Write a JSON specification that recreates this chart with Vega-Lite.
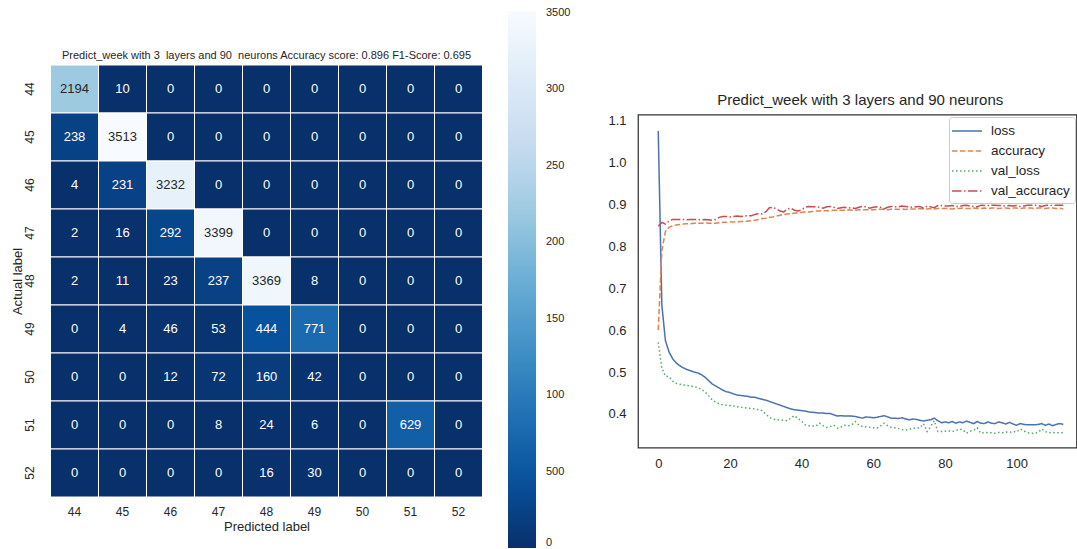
{
  "$schema": "https://vega.github.io/schema/vega-lite/v6.json",
  "autosize": {"type": "pad"},
  "padding": {"left": 10.5, "top": 11, "right": 0, "bottom": 0},
  "background": "white",
  "config": {"font": "Liberation Sans", "view": {"stroke": null}},
  "bounds": "flush",
  "center": true,
  "spacing": 155.5,
  "resolve": {"scale": {"color": "independent", "strokeDash": "independent"}, "legend": {"color": "independent", "strokeDash": "independent"}},
  "hconcat": [
    {
      "width": 432,
      "height": 432,
      "title": {"text": "Predict_week with 3\u00a0 layers and 90\u00a0 neurons Accuracy score: 0.896 F1-Score: 0.695", "fontSize": 11, "fontWeight": "normal", "color": "#262626", "offset": -50, "frame": "group", "anchor": "middle"},
      "data": {"values": [
        {"actual": "44", "predicted": "44", "count": 2194}, {"actual": "44", "predicted": "45", "count": 10}, {"actual": "44", "predicted": "46", "count": 0}, {"actual": "44", "predicted": "47", "count": 0}, {"actual": "44", "predicted": "48", "count": 0}, {"actual": "44", "predicted": "49", "count": 0}, {"actual": "44", "predicted": "50", "count": 0}, {"actual": "44", "predicted": "51", "count": 0}, {"actual": "44", "predicted": "52", "count": 0},
        {"actual": "45", "predicted": "44", "count": 238}, {"actual": "45", "predicted": "45", "count": 3513}, {"actual": "45", "predicted": "46", "count": 0}, {"actual": "45", "predicted": "47", "count": 0}, {"actual": "45", "predicted": "48", "count": 0}, {"actual": "45", "predicted": "49", "count": 0}, {"actual": "45", "predicted": "50", "count": 0}, {"actual": "45", "predicted": "51", "count": 0}, {"actual": "45", "predicted": "52", "count": 0},
        {"actual": "46", "predicted": "44", "count": 4}, {"actual": "46", "predicted": "45", "count": 231}, {"actual": "46", "predicted": "46", "count": 3232}, {"actual": "46", "predicted": "47", "count": 0}, {"actual": "46", "predicted": "48", "count": 0}, {"actual": "46", "predicted": "49", "count": 0}, {"actual": "46", "predicted": "50", "count": 0}, {"actual": "46", "predicted": "51", "count": 0}, {"actual": "46", "predicted": "52", "count": 0},
        {"actual": "47", "predicted": "44", "count": 2}, {"actual": "47", "predicted": "45", "count": 16}, {"actual": "47", "predicted": "46", "count": 292}, {"actual": "47", "predicted": "47", "count": 3399}, {"actual": "47", "predicted": "48", "count": 0}, {"actual": "47", "predicted": "49", "count": 0}, {"actual": "47", "predicted": "50", "count": 0}, {"actual": "47", "predicted": "51", "count": 0}, {"actual": "47", "predicted": "52", "count": 0},
        {"actual": "48", "predicted": "44", "count": 2}, {"actual": "48", "predicted": "45", "count": 11}, {"actual": "48", "predicted": "46", "count": 23}, {"actual": "48", "predicted": "47", "count": 237}, {"actual": "48", "predicted": "48", "count": 3369}, {"actual": "48", "predicted": "49", "count": 8}, {"actual": "48", "predicted": "50", "count": 0}, {"actual": "48", "predicted": "51", "count": 0}, {"actual": "48", "predicted": "52", "count": 0},
        {"actual": "49", "predicted": "44", "count": 0}, {"actual": "49", "predicted": "45", "count": 4}, {"actual": "49", "predicted": "46", "count": 46}, {"actual": "49", "predicted": "47", "count": 53}, {"actual": "49", "predicted": "48", "count": 444}, {"actual": "49", "predicted": "49", "count": 771}, {"actual": "49", "predicted": "50", "count": 0}, {"actual": "49", "predicted": "51", "count": 0}, {"actual": "49", "predicted": "52", "count": 0},
        {"actual": "50", "predicted": "44", "count": 0}, {"actual": "50", "predicted": "45", "count": 0}, {"actual": "50", "predicted": "46", "count": 12}, {"actual": "50", "predicted": "47", "count": 72}, {"actual": "50", "predicted": "48", "count": 160}, {"actual": "50", "predicted": "49", "count": 42}, {"actual": "50", "predicted": "50", "count": 0}, {"actual": "50", "predicted": "51", "count": 0}, {"actual": "50", "predicted": "52", "count": 0},
        {"actual": "51", "predicted": "44", "count": 0}, {"actual": "51", "predicted": "45", "count": 0}, {"actual": "51", "predicted": "46", "count": 0}, {"actual": "51", "predicted": "47", "count": 8}, {"actual": "51", "predicted": "48", "count": 24}, {"actual": "51", "predicted": "49", "count": 6}, {"actual": "51", "predicted": "50", "count": 0}, {"actual": "51", "predicted": "51", "count": 629}, {"actual": "51", "predicted": "52", "count": 0},
        {"actual": "52", "predicted": "44", "count": 0}, {"actual": "52", "predicted": "45", "count": 0}, {"actual": "52", "predicted": "46", "count": 0}, {"actual": "52", "predicted": "47", "count": 0}, {"actual": "52", "predicted": "48", "count": 16}, {"actual": "52", "predicted": "49", "count": 30}, {"actual": "52", "predicted": "50", "count": 0}, {"actual": "52", "predicted": "51", "count": 0}, {"actual": "52", "predicted": "52", "count": 0}
      ]},
      "encoding": {
        "x": {"field": "predicted", "type": "ordinal", "scale": {"paddingInner": 0, "paddingOuter": 0},
          "axis": {"title": "Predicted label", "labelAngle": 0, "ticks": false, "domain": false, "labelFontSize": 12, "titleFontSize": 13, "labelPadding": 9, "titlePadding": 3, "labelColor": "#262626", "titleColor": "#262626", "titleFontWeight": "normal"}},
        "y": {"field": "actual", "type": "ordinal", "scale": {"paddingInner": 0, "paddingOuter": 0},
          "axis": {"title": "Actual label", "labelAngle": -90, "ticks": false, "domain": false, "labelFontSize": 12, "titleFontSize": 13, "labelPadding": 14.5, "titlePadding": -1, "labelColor": "#262626", "titleColor": "#262626", "titleFontWeight": "normal"}}
      },
      "layer": [
        {
          "mark": {"type": "rect", "stroke": "white", "strokeWidth": 1},
          "encoding": {
            "color": {"field": "count", "type": "quantitative",
              "scale": {"domain": [0, 439.125, 878.25, 1317.375, 1756.5, 2195.625, 2634.75, 3073.875, 3513],
                        "range": ["#08306b", "#08519c", "#2171b5", "#4292c6", "#6baed6", "#9ecae1", "#c6dbef", "#deebf7", "#f7fbff"], "interpolate": "rgb"},
              "legend": {"orient": "none", "legendX": 457.5, "legendY": -54, "direction": "vertical", "title": null,
                "gradientLength": 537, "gradientThickness": 28, "gradientStrokeWidth": 0,
                "values": [0, 500, 1000, 1500, 2000, 2500, 3000, 3500], "format": "d",
                "labelExpr": "datum.value == 3000 ? '300' : datum.value == 2500 ? '250' : datum.value == 2000 ? '200' : datum.value == 1500 ? '150' : datum.value == 1000 ? '100' : datum.label",
                "labelFontSize": 11, "labelColor": "#262626", "labelOffset": 10}}
          }
        },
        {
          "mark": {"type": "text", "fontSize": 13, "baseline": "middle"},
          "encoding": {
            "text": {"field": "count", "type": "quantitative"},
            "color": {"condition": {"test": "datum.count > 2000", "value": "#262626"}, "value": "white"}
          }
        }
      ]
    },
    {
      "width": 438.5,
      "height": 333,
      "view": {"stroke": "#333333", "strokeWidth": 1.25},
      "title": {"text": "Predict_week with 3 layers and 90 neurons", "fontSize": 15, "fontWeight": "normal", "color": "#262626", "offset": 6, "dx": 3},
      "data": {"values": [
        {"epoch": 0, "loss": 1.075, "accuracy": 0.600, "val_loss": 0.571, "val_accuracy": 0.848},
        {"epoch": 1, "loss": 0.660, "accuracy": 0.790, "val_loss": 0.510, "val_accuracy": 0.857},
        {"epoch": 2, "loss": 0.575, "accuracy": 0.835, "val_loss": 0.490, "val_accuracy": 0.853},
        {"epoch": 3, "loss": 0.548, "accuracy": 0.845, "val_loss": 0.489, "val_accuracy": 0.860},
        {"epoch": 4, "loss": 0.532, "accuracy": 0.849, "val_loss": 0.478, "val_accuracy": 0.864},
        {"epoch": 5, "loss": 0.522, "accuracy": 0.851, "val_loss": 0.473, "val_accuracy": 0.864},
        {"epoch": 6, "loss": 0.515, "accuracy": 0.852, "val_loss": 0.471, "val_accuracy": 0.864},
        {"epoch": 7, "loss": 0.510, "accuracy": 0.853, "val_loss": 0.469, "val_accuracy": 0.864},
        {"epoch": 8, "loss": 0.506, "accuracy": 0.854, "val_loss": 0.468, "val_accuracy": 0.863},
        {"epoch": 9, "loss": 0.503, "accuracy": 0.854, "val_loss": 0.467, "val_accuracy": 0.864},
        {"epoch": 10, "loss": 0.500, "accuracy": 0.855, "val_loss": 0.465, "val_accuracy": 0.864},
        {"epoch": 11, "loss": 0.498, "accuracy": 0.855, "val_loss": 0.463, "val_accuracy": 0.864},
        {"epoch": 12, "loss": 0.494, "accuracy": 0.855, "val_loss": 0.459, "val_accuracy": 0.863},
        {"epoch": 13, "loss": 0.488, "accuracy": 0.856, "val_loss": 0.453, "val_accuracy": 0.864},
        {"epoch": 14, "loss": 0.480, "accuracy": 0.855, "val_loss": 0.444, "val_accuracy": 0.863},
        {"epoch": 15, "loss": 0.472, "accuracy": 0.855, "val_loss": 0.434, "val_accuracy": 0.862},
        {"epoch": 16, "loss": 0.467, "accuracy": 0.855, "val_loss": 0.428, "val_accuracy": 0.864},
        {"epoch": 17, "loss": 0.462, "accuracy": 0.856, "val_loss": 0.424, "val_accuracy": 0.869},
        {"epoch": 18, "loss": 0.457, "accuracy": 0.857, "val_loss": 0.422, "val_accuracy": 0.871},
        {"epoch": 19, "loss": 0.453, "accuracy": 0.857, "val_loss": 0.421, "val_accuracy": 0.871},
        {"epoch": 20, "loss": 0.451, "accuracy": 0.858, "val_loss": 0.420, "val_accuracy": 0.870},
        {"epoch": 21, "loss": 0.448, "accuracy": 0.858, "val_loss": 0.419, "val_accuracy": 0.871},
        {"epoch": 22, "loss": 0.445, "accuracy": 0.858, "val_loss": 0.417, "val_accuracy": 0.872},
        {"epoch": 23, "loss": 0.444, "accuracy": 0.859, "val_loss": 0.416, "val_accuracy": 0.871},
        {"epoch": 24, "loss": 0.443, "accuracy": 0.859, "val_loss": 0.415, "val_accuracy": 0.872},
        {"epoch": 25, "loss": 0.442, "accuracy": 0.860, "val_loss": 0.414, "val_accuracy": 0.873},
        {"epoch": 26, "loss": 0.440, "accuracy": 0.861, "val_loss": 0.413, "val_accuracy": 0.873},
        {"epoch": 27, "loss": 0.440, "accuracy": 0.862, "val_loss": 0.412, "val_accuracy": 0.876},
        {"epoch": 28, "loss": 0.437, "accuracy": 0.864, "val_loss": 0.410, "val_accuracy": 0.878},
        {"epoch": 29, "loss": 0.435, "accuracy": 0.866, "val_loss": 0.408, "val_accuracy": 0.877},
        {"epoch": 30, "loss": 0.433, "accuracy": 0.867, "val_loss": 0.400, "val_accuracy": 0.882},
        {"epoch": 31, "loss": 0.430, "accuracy": 0.869, "val_loss": 0.392, "val_accuracy": 0.892},
        {"epoch": 32, "loss": 0.427, "accuracy": 0.870, "val_loss": 0.388, "val_accuracy": 0.893},
        {"epoch": 33, "loss": 0.424, "accuracy": 0.872, "val_loss": 0.386, "val_accuracy": 0.889},
        {"epoch": 34, "loss": 0.421, "accuracy": 0.874, "val_loss": 0.386, "val_accuracy": 0.884},
        {"epoch": 35, "loss": 0.418, "accuracy": 0.876, "val_loss": 0.385, "val_accuracy": 0.882},
        {"epoch": 36, "loss": 0.415, "accuracy": 0.877, "val_loss": 0.384, "val_accuracy": 0.889},
        {"epoch": 37, "loss": 0.412, "accuracy": 0.878, "val_loss": 0.390, "val_accuracy": 0.891},
        {"epoch": 38, "loss": 0.410, "accuracy": 0.879, "val_loss": 0.396, "val_accuracy": 0.886},
        {"epoch": 39, "loss": 0.409, "accuracy": 0.880, "val_loss": 0.389, "val_accuracy": 0.884},
        {"epoch": 40, "loss": 0.408, "accuracy": 0.881, "val_loss": 0.383, "val_accuracy": 0.887},
        {"epoch": 41, "loss": 0.407, "accuracy": 0.882, "val_loss": 0.374, "val_accuracy": 0.893},
        {"epoch": 42, "loss": 0.405, "accuracy": 0.882, "val_loss": 0.372, "val_accuracy": 0.895},
        {"epoch": 43, "loss": 0.404, "accuracy": 0.883, "val_loss": 0.371, "val_accuracy": 0.894},
        {"epoch": 44, "loss": 0.403, "accuracy": 0.884, "val_loss": 0.371, "val_accuracy": 0.894},
        {"epoch": 45, "loss": 0.402, "accuracy": 0.884, "val_loss": 0.378, "val_accuracy": 0.893},
        {"epoch": 46, "loss": 0.402, "accuracy": 0.885, "val_loss": 0.372, "val_accuracy": 0.891},
        {"epoch": 47, "loss": 0.401, "accuracy": 0.885, "val_loss": 0.368, "val_accuracy": 0.894},
        {"epoch": 48, "loss": 0.401, "accuracy": 0.885, "val_loss": 0.370, "val_accuracy": 0.895},
        {"epoch": 49, "loss": 0.398, "accuracy": 0.886, "val_loss": 0.373, "val_accuracy": 0.893},
        {"epoch": 50, "loss": 0.395, "accuracy": 0.886, "val_loss": 0.366, "val_accuracy": 0.890},
        {"epoch": 51, "loss": 0.396, "accuracy": 0.886, "val_loss": 0.369, "val_accuracy": 0.892},
        {"epoch": 52, "loss": 0.395, "accuracy": 0.886, "val_loss": 0.373, "val_accuracy": 0.893},
        {"epoch": 53, "loss": 0.395, "accuracy": 0.887, "val_loss": 0.372, "val_accuracy": 0.891},
        {"epoch": 54, "loss": 0.395, "accuracy": 0.886, "val_loss": 0.374, "val_accuracy": 0.892},
        {"epoch": 55, "loss": 0.394, "accuracy": 0.886, "val_loss": 0.382, "val_accuracy": 0.890},
        {"epoch": 56, "loss": 0.392, "accuracy": 0.887, "val_loss": 0.373, "val_accuracy": 0.893},
        {"epoch": 57, "loss": 0.390, "accuracy": 0.887, "val_loss": 0.370, "val_accuracy": 0.895},
        {"epoch": 58, "loss": 0.393, "accuracy": 0.887, "val_loss": 0.369, "val_accuracy": 0.894},
        {"epoch": 59, "loss": 0.392, "accuracy": 0.887, "val_loss": 0.368, "val_accuracy": 0.891},
        {"epoch": 60, "loss": 0.391, "accuracy": 0.887, "val_loss": 0.367, "val_accuracy": 0.893},
        {"epoch": 61, "loss": 0.392, "accuracy": 0.888, "val_loss": 0.366, "val_accuracy": 0.894},
        {"epoch": 62, "loss": 0.394, "accuracy": 0.888, "val_loss": 0.371, "val_accuracy": 0.893},
        {"epoch": 63, "loss": 0.396, "accuracy": 0.888, "val_loss": 0.378, "val_accuracy": 0.889},
        {"epoch": 64, "loss": 0.393, "accuracy": 0.887, "val_loss": 0.372, "val_accuracy": 0.893},
        {"epoch": 65, "loss": 0.390, "accuracy": 0.888, "val_loss": 0.368, "val_accuracy": 0.895},
        {"epoch": 66, "loss": 0.390, "accuracy": 0.888, "val_loss": 0.367, "val_accuracy": 0.894},
        {"epoch": 67, "loss": 0.389, "accuracy": 0.888, "val_loss": 0.365, "val_accuracy": 0.894},
        {"epoch": 68, "loss": 0.391, "accuracy": 0.889, "val_loss": 0.363, "val_accuracy": 0.896},
        {"epoch": 69, "loss": 0.388, "accuracy": 0.888, "val_loss": 0.362, "val_accuracy": 0.895},
        {"epoch": 70, "loss": 0.386, "accuracy": 0.889, "val_loss": 0.363, "val_accuracy": 0.894},
        {"epoch": 71, "loss": 0.388, "accuracy": 0.889, "val_loss": 0.366, "val_accuracy": 0.893},
        {"epoch": 72, "loss": 0.387, "accuracy": 0.889, "val_loss": 0.366, "val_accuracy": 0.894},
        {"epoch": 73, "loss": 0.385, "accuracy": 0.890, "val_loss": 0.367, "val_accuracy": 0.895},
        {"epoch": 74, "loss": 0.383, "accuracy": 0.889, "val_loss": 0.377, "val_accuracy": 0.891},
        {"epoch": 75, "loss": 0.385, "accuracy": 0.889, "val_loss": 0.358, "val_accuracy": 0.896},
        {"epoch": 76, "loss": 0.386, "accuracy": 0.890, "val_loss": 0.370, "val_accuracy": 0.894},
        {"epoch": 77, "loss": 0.390, "accuracy": 0.889, "val_loss": 0.384, "val_accuracy": 0.892},
        {"epoch": 78, "loss": 0.384, "accuracy": 0.890, "val_loss": 0.358, "val_accuracy": 0.897},
        {"epoch": 79, "loss": 0.379, "accuracy": 0.890, "val_loss": 0.358, "val_accuracy": 0.897},
        {"epoch": 80, "loss": 0.381, "accuracy": 0.890, "val_loss": 0.359, "val_accuracy": 0.896},
        {"epoch": 81, "loss": 0.379, "accuracy": 0.890, "val_loss": 0.360, "val_accuracy": 0.896},
        {"epoch": 82, "loss": 0.382, "accuracy": 0.889, "val_loss": 0.358, "val_accuracy": 0.897},
        {"epoch": 83, "loss": 0.378, "accuracy": 0.890, "val_loss": 0.360, "val_accuracy": 0.895},
        {"epoch": 84, "loss": 0.381, "accuracy": 0.890, "val_loss": 0.364, "val_accuracy": 0.895},
        {"epoch": 85, "loss": 0.379, "accuracy": 0.891, "val_loss": 0.362, "val_accuracy": 0.897},
        {"epoch": 86, "loss": 0.383, "accuracy": 0.890, "val_loss": 0.354, "val_accuracy": 0.898},
        {"epoch": 87, "loss": 0.380, "accuracy": 0.890, "val_loss": 0.359, "val_accuracy": 0.896},
        {"epoch": 88, "loss": 0.377, "accuracy": 0.891, "val_loss": 0.361, "val_accuracy": 0.895},
        {"epoch": 89, "loss": 0.382, "accuracy": 0.890, "val_loss": 0.367, "val_accuracy": 0.894},
        {"epoch": 90, "loss": 0.378, "accuracy": 0.890, "val_loss": 0.354, "val_accuracy": 0.898},
        {"epoch": 91, "loss": 0.377, "accuracy": 0.891, "val_loss": 0.356, "val_accuracy": 0.897},
        {"epoch": 92, "loss": 0.381, "accuracy": 0.890, "val_loss": 0.355, "val_accuracy": 0.897},
        {"epoch": 93, "loss": 0.378, "accuracy": 0.891, "val_loss": 0.355, "val_accuracy": 0.898},
        {"epoch": 94, "loss": 0.377, "accuracy": 0.891, "val_loss": 0.354, "val_accuracy": 0.898},
        {"epoch": 95, "loss": 0.381, "accuracy": 0.890, "val_loss": 0.356, "val_accuracy": 0.897},
        {"epoch": 96, "loss": 0.379, "accuracy": 0.891, "val_loss": 0.355, "val_accuracy": 0.897},
        {"epoch": 97, "loss": 0.376, "accuracy": 0.891, "val_loss": 0.357, "val_accuracy": 0.896},
        {"epoch": 98, "loss": 0.380, "accuracy": 0.890, "val_loss": 0.356, "val_accuracy": 0.897},
        {"epoch": 99, "loss": 0.376, "accuracy": 0.891, "val_loss": 0.358, "val_accuracy": 0.896},
        {"epoch": 100, "loss": 0.373, "accuracy": 0.891, "val_loss": 0.357, "val_accuracy": 0.897},
        {"epoch": 101, "loss": 0.377, "accuracy": 0.890, "val_loss": 0.364, "val_accuracy": 0.895},
        {"epoch": 102, "loss": 0.375, "accuracy": 0.891, "val_loss": 0.360, "val_accuracy": 0.896},
        {"epoch": 103, "loss": 0.374, "accuracy": 0.891, "val_loss": 0.355, "val_accuracy": 0.898},
        {"epoch": 104, "loss": 0.374, "accuracy": 0.891, "val_loss": 0.354, "val_accuracy": 0.898},
        {"epoch": 105, "loss": 0.374, "accuracy": 0.890, "val_loss": 0.354, "val_accuracy": 0.898},
        {"epoch": 106, "loss": 0.375, "accuracy": 0.891, "val_loss": 0.356, "val_accuracy": 0.897},
        {"epoch": 107, "loss": 0.377, "accuracy": 0.891, "val_loss": 0.364, "val_accuracy": 0.895},
        {"epoch": 108, "loss": 0.373, "accuracy": 0.890, "val_loss": 0.358, "val_accuracy": 0.897},
        {"epoch": 109, "loss": 0.376, "accuracy": 0.891, "val_loss": 0.355, "val_accuracy": 0.898},
        {"epoch": 110, "loss": 0.372, "accuracy": 0.891, "val_loss": 0.356, "val_accuracy": 0.897},
        {"epoch": 111, "loss": 0.375, "accuracy": 0.890, "val_loss": 0.355, "val_accuracy": 0.898},
        {"epoch": 112, "loss": 0.377, "accuracy": 0.891, "val_loss": 0.355, "val_accuracy": 0.898},
        {"epoch": 113, "loss": 0.375, "accuracy": 0.889, "val_loss": 0.355, "val_accuracy": 0.898}
      ]},
      "transform": [{"fold": ["loss", "accuracy", "val_loss", "val_accuracy"], "as": ["series", "value"]}],
      "mark": {"type": "line", "strokeWidth": 1.5},
      "encoding": {
        "x": {"field": "epoch", "type": "quantitative", "scale": {"domain": [-5.65, 116.7], "nice": false, "zero": false},
          "axis": {"title": null, "values": [0, 20, 40, 60, 80, 100], "grid": false, "ticks": false, "domain": false, "labelFontSize": 13, "labelPadding": 10, "labelColor": "#262626"}},
        "y": {"field": "value", "type": "quantitative", "scale": {"domain": [0.32, 1.1143], "nice": false, "zero": false},
          "axis": {"title": null, "values": [0.4, 0.5, 0.6, 0.7, 0.8, 0.9, 1.0, 1.1], "format": ".1f", "grid": false, "ticks": false, "domain": false, "labelFontSize": 13, "labelPadding": 12, "labelColor": "#262626"}},
        "color": {"field": "series", "type": "nominal",
          "scale": {"domain": ["loss", "accuracy", "val_loss", "val_accuracy"], "range": ["#4c72b0", "#dd8452", "#55a868", "#c44e52"]},
          "legend": {"orient": "none", "legendX": 311, "legendY": 2.5, "title": null, "fillColor": "white", "strokeColor": "#cccccc", "cornerRadius": 3, "padding": 5, "symbolType": "M-1.875,0L1.875,0", "symbolSize": 256, "symbolStrokeWidth": 1.5, "symbolOffset": 4, "labelFontSize": 13.5, "labelColor": "#262626", "labelOffset": 15, "rowPadding": 4}},
        "strokeDash": {"field": "series", "type": "nominal",
          "scale": {"domain": ["loss", "accuracy", "val_loss", "val_accuracy"], "range": [[1, 0], [5.5, 2.4], [1.5, 2.5], [9.6, 2.4, 1.5, 2.4]]},
          "legend": {"orient": "none", "legendX": 311, "legendY": 2.5, "title": null, "fillColor": "white", "strokeColor": "#cccccc", "cornerRadius": 3, "padding": 5, "symbolType": "M-1.875,0L1.875,0", "symbolSize": 256, "symbolStrokeWidth": 1.5, "symbolOffset": 4, "labelFontSize": 13.5, "labelColor": "#262626", "labelOffset": 15, "rowPadding": 4}}
      }
    }
  ]
}
